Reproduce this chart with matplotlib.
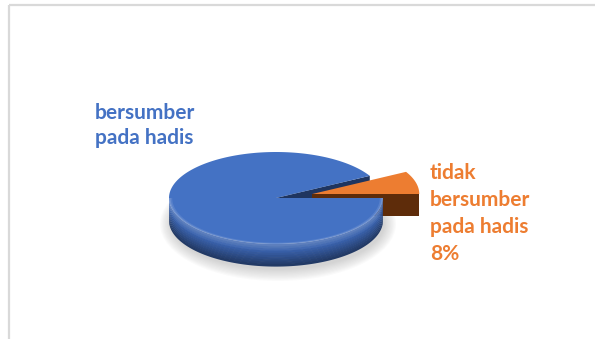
import matplotlib.pyplot as plt
import numpy as np
from matplotlib.patches import Polygon, Ellipse
from matplotlib.colors import to_rgb

# chart data
labels = ['bersumber\npada hadis', 'tidak\nbersumber\npada hadis\n8%']
values = [92, 8]
top_colors = ['#4472C4', '#ED7D31']
wall_colors = ['#3A63AE', '#7A3A10']
cut_colors = ['#1F3560', '#5E2C0A']
explode = [0.0, 0.35]

W, H = 595, 339
fig = plt.figure(figsize=(W / 100, H / 100), dpi=100)
ax = fig.add_axes([0, 0, 1, 1])
ax.set_xlim(0, W)
ax.set_ylim(H, 0)
ax.axis('off')

# chart frame (left and top edge visible)
ax.plot([8.5, 8.5], [5, H], color='#D9D9D9', lw=1.6, solid_capstyle='butt')
ax.plot([8.5, W], [5, 5], color='#D9D9D9', lw=1.6, solid_capstyle='butt')

# pie geometry (pixels)
cx, cy = 276, 198
a, b = 107, 46
h = 22


def mix(c, k):
    r = np.array(to_rgb(c))
    if k >= 0:
        return tuple(r + (1 - r) * k)
    return tuple(r * (1 + k))


# soft shadow under the pie
for i in range(10):
    ax.add_patch(Ellipse((cx + 2, cy + h + 4), 2 * a + 22 - i * 2.5, 2 * b + 22 - i * 2.5,
                         color='#808080', alpha=0.035, lw=0))

total = float(sum(values))
start = 360.0 * values[1] / total  # blue starts where orange ends
spans = []
t = start
for v in values:
    spans.append((t, t + 360.0 * v / total))
    t += 360.0 * v / total

offs = []
for (t1, t2), e in zip(spans, explode):
    m = np.radians((t1 + t2) / 2)
    offs.append((e * a * np.cos(m), -e * b * np.sin(m)))


def P(tdeg, r, down, off):
    tr = np.radians(tdeg)
    return (cx + off[0] + r * a * np.cos(tr), cy + off[1] - r * b * np.sin(tr) + down)


# radial cut faces
for i, ((t1, t2), off) in enumerate(zip(spans, offs)):
    for tt, sgn in ((t1, 1), (t2, -1)):
        visible = np.cos(np.radians(tt)) * sgn > 0
        if not visible:
            continue
        pts = [P(tt, 0, 0, off), P(tt, 1, 0, off), P(tt, 1, h, off), P(tt, 0, h, off)]
        ax.add_patch(Polygon(pts, closed=True, fc=cut_colors[i], ec='none'))

# outer walls (front half only), shaded in horizontal strips
nstrip = 10
for i, ((t1, t2), off) in enumerate(zip(spans, offs)):
    lo = max(t1, 180.0)
    hi = min(t2, 360.0)
    if hi <= lo:
        continue
    ts = np.linspace(lo, hi, 120)
    for k in range(nstrip):
        d0 = h * k / nstrip
        d1 = h * (k + 1) / nstrip
        f = k / (nstrip - 1)
        if f < 0.25:
            col = mix(wall_colors[i], 0.18 - f * 0.6)
        else:
            col = mix(wall_colors[i], -(f - 0.25) * 0.55)
        upper = [P(tt, 1, d0, off) for tt in ts]
        lower = [P(tt, 1, d1 + 0.6, off) for tt in ts[::-1]]
        ax.add_patch(Polygon(upper + lower, closed=True, fc=col, ec='none'))
    # darken right end of the wall
    for tt0 in np.linspace(hi - 30, hi, 12):
        pass

# top faces
for i, ((t1, t2), off) in enumerate(zip(spans, offs)):
    ts = np.linspace(t1, t2, 200)
    pts = [P(0, 0, 0, off)] + [P(tt, 1, 0, off) for tt in ts]
    ax.add_patch(Polygon(pts, closed=True, fc=top_colors[i], ec='none'))
    # light bevel along the front rim
    lo = max(t1, 180.0)
    hi = min(t2, 360.0)
    if hi > lo:
        tb = np.linspace(lo, hi, 120)
        for k, (r0, al) in enumerate(((0.97, 0.10), (0.985, 0.14))):
            outer = [P(tt, 1, 0, off) for tt in tb]
            inner = [P(tt, r0, 0, off) for tt in tb[::-1]]
            ax.add_patch(Polygon(outer + inner, closed=True, fc='white', alpha=al, ec='none'))

# labels
font = dict(family='Lato', weight='bold', fontsize=15)
label_pos = [(95, 119), (430, 179)]
line_step = [25, 27]
for lab, (x0, y0), step, col in zip(labels, label_pos, line_step, top_colors):
    for j, line in enumerate(lab.split('\n')):
        ax.text(x0, y0 + j * step, line, color=col, va='baseline', ha='left', **font)

fig.savefig('out.png', dpi=100)
